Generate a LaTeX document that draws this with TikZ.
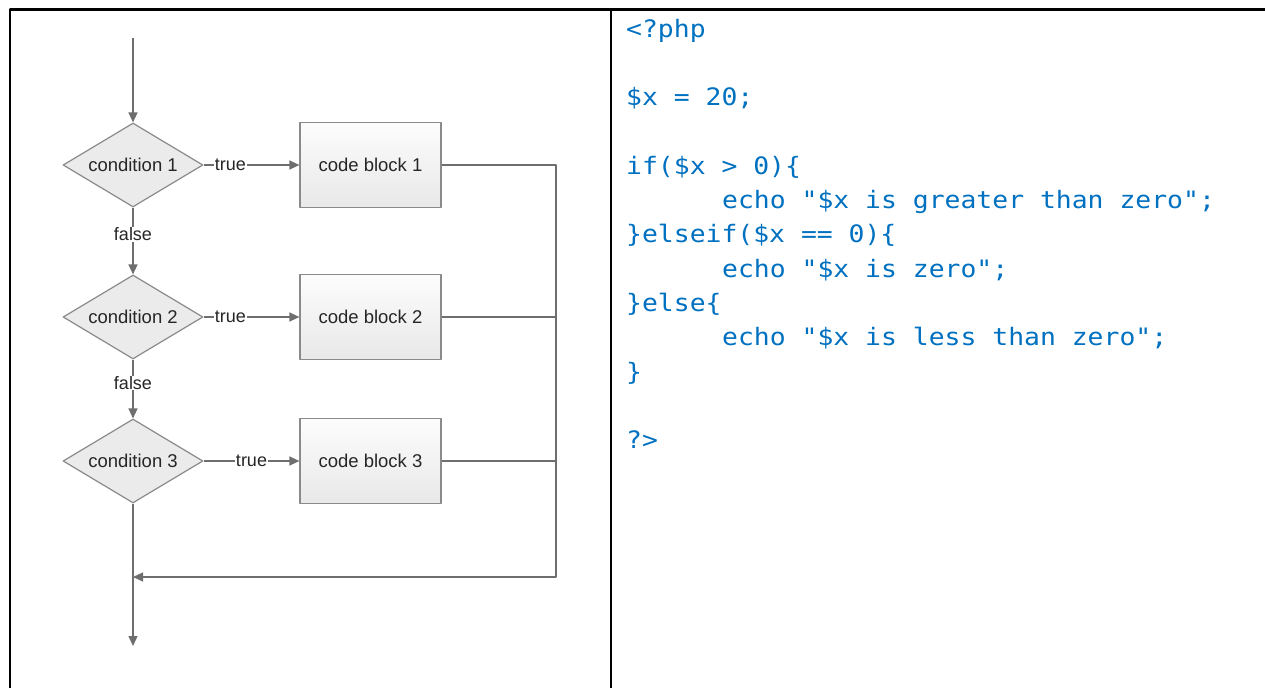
\documentclass[tikz,border=0pt]{standalone}
\usepackage{fontspec}
\usetikzlibrary{shapes.geometric,arrows.meta,positioning}
\newfontfamily\chartfont{Liberation Sans}
\newfontfamily\codefont[FakeStretch=1.1]{DejaVu Sans Mono}
\definecolor{linegray}{HTML}{6E6E6E}
\definecolor{shapegray}{HTML}{8A8A8A}
\definecolor{codeblue}{HTML}{0070C0}
\tikzset{
  decision/.style={diamond, draw=shapegray, fill=black!8, line width=1.2pt,
    minimum width=140pt, minimum height=84pt, aspect=1.667, inner sep=0pt,
    font=\chartfont\fontsize{18.5}{21}\selectfont, text=black!85},
  block/.style={rectangle, draw=shapegray, line width=1.2pt,
    top color=white!99!black, bottom color=black!9,
    minimum width=141pt, minimum height=85pt, inner sep=0pt,
    font=\chartfont\fontsize{18.5}{21}\selectfont, text=black!85},
  flow/.style={draw=linegray, line width=1.3pt},
  lbl/.style={fill=white, inner sep=0.6pt,
    font=\chartfont\fontsize{18}{21}\selectfont, text=black!85},
  codeline/.style={anchor=base west, inner sep=0pt,
    font=\codefont\fontsize{24}{34}\selectfont, text=codeblue},
}
\begin{document}
\begin{tikzpicture}[x=1pt, y=-1pt, line join=round, >={Triangle[length=10pt,width=9pt]}]
\useasboundingbox (0,0) rectangle (1265,688);
% table rules
\draw[line width=2.4pt] (10,688) -- (10,9.5) -- (1265,9.5);
\draw[line width=2.4pt] (611,9.5) -- (611,688);
% flowchart
\node[decision] (cond1) at (133,165) {condition 1};
\node[decision] (cond2) at (133,317) {condition 2};
\node[decision] (cond3) at (133,461) {condition 3};
\node[block] (blk1) at (370.5,165) {code block 1};
\node[block] (blk2) at (370.5,317) {code block 2};
\node[block] (blk3) at (370.5,461) {code block 3};
\coordinate (start) at (133,38);
\coordinate (stop) at (133,646);
\coordinate (join) at (133,577);
\coordinate (busbot) at (556,577);
\draw[flow,->] (start) -- (cond1);
\draw[flow,->] (cond1) -- node[lbl, pos=0.28] {true} (blk1);
\draw[flow,->] (cond2) -- node[lbl, pos=0.28] {true} (blk2);
\draw[flow,->] (cond3) -- node[lbl, pos=0.5] {true} (blk3);
\draw[flow,->] (cond1) -- node[lbl, pos=0.4] {false} (cond2);
\draw[flow,->] (cond2) -- node[lbl, pos=0.4] {false} (cond3);
\draw[flow,->] (cond3) -- (stop);
\draw[flow,->] (blk1.east) -| (busbot) -- (join);
\draw[flow] (blk2.east) -- (blk2.east -| busbot);
\draw[flow] (blk3.east) -- (blk3.east -| busbot);
% php code
\node[codeline] (c0) at (626,37) {<?php};
\node[codeline] (c2) at (626,105.6) {\$x = 20;};
\node[codeline] (c4) at (626,174.2) {if(\$x > 0)\{};
\node[codeline] (c5) at (722,208.5) {echo "\$x is greater than zero";};
\node[codeline] (c6) at (626,242.8) {\}elseif(\$x == 0)\{};
\node[codeline] (c7) at (722,277.1) {echo "\$x is zero";};
\node[codeline] (c8) at (626,311.4) {\}else\{};
\node[codeline] (c9) at (722,345.7) {echo "\$x is less than zero";};
\node[codeline] (c10) at (626,380) {\}};
\node[codeline] (c12) at (626,448.6) {?>};
\end{tikzpicture}
\end{document}
